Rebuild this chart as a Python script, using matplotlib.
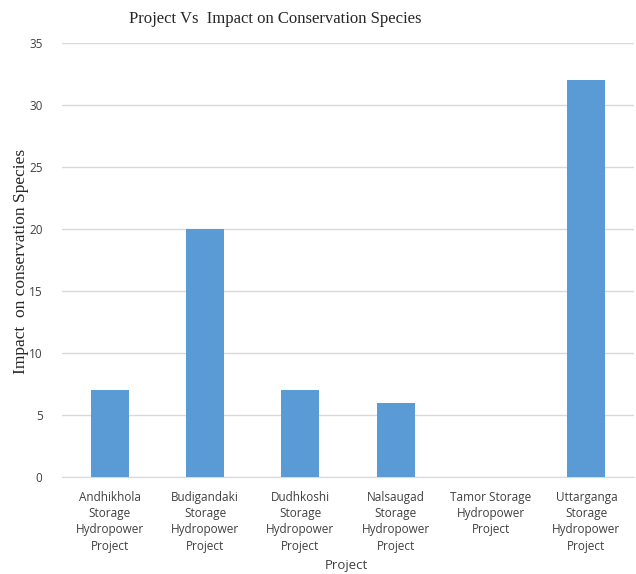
import matplotlib
matplotlib.use('Agg')
import matplotlib.pyplot as plt
import numpy as np

# chart data
projects = ['Andhikhola\nStorage\nHydropower\nProject',
            'Budigandaki\nStorage\nHydropower\nProject',
            'Dudhkoshi\nStorage\nHydropower\nProject',
            'Nalsaugad\nStorage\nHydropower\nProject',
            'Tamor Storage\nHydropower\nProject',
            'Uttarganga\nStorage\nHydropower\nProject']
impact = [7, 20, 7, 6, 0, 32]
y_ticks = [0, 5, 10, 15, 20, 25, 30, 35]

fig = plt.figure(figsize=(6.36, 5.74), dpi=100)
ax = fig.add_axes([0.0975, 0.169, 0.8995, 0.756])

x = np.arange(len(projects))
ax.bar(x, impact, width=0.4, color='#5B9BD5', zorder=3)

ax.set_xlim(-0.5, len(projects) - 0.5)
ax.set_ylim(0, 35)
ax.set_yticks(y_ticks)
ax.set_xticks(x)
ax.set_xticklabels(projects, family='Open Sans', fontsize=8.5, color='#404040',
                   linespacing=1.33)
for lbl in ax.get_yticklabels():
    lbl.set_family('Open Sans')
    lbl.set_fontsize(8.5)
    lbl.set_color('#404040')

ax.grid(axis='y', color='#D9D9D9', linewidth=1, zorder=0)
for s in ['top', 'right', 'left']:
    ax.spines[s].set_visible(False)
ax.spines['bottom'].set_color('#D9D9D9')
ax.tick_params(length=0, pad=10)
ax.tick_params(axis='y', pad=14)

fig.text(0.433, 0.967, 'Project Vs  Impact on Conservation Species',
         family='Liberation Serif', fontsize=12, color='#262626',
         ha='center', va='center')
fig.text(0.033, 0.545, 'Impact  on conservation Species', family='Liberation Serif',
         fontsize=12.5, color='#262626', rotation=90, ha='center', va='center')
fig.text(0.545, 0.003, 'Project', family='Open Sans', fontsize=9.5,
         color='#404040', ha='center', va='bottom')

fig.savefig('out.png', dpi=100)
